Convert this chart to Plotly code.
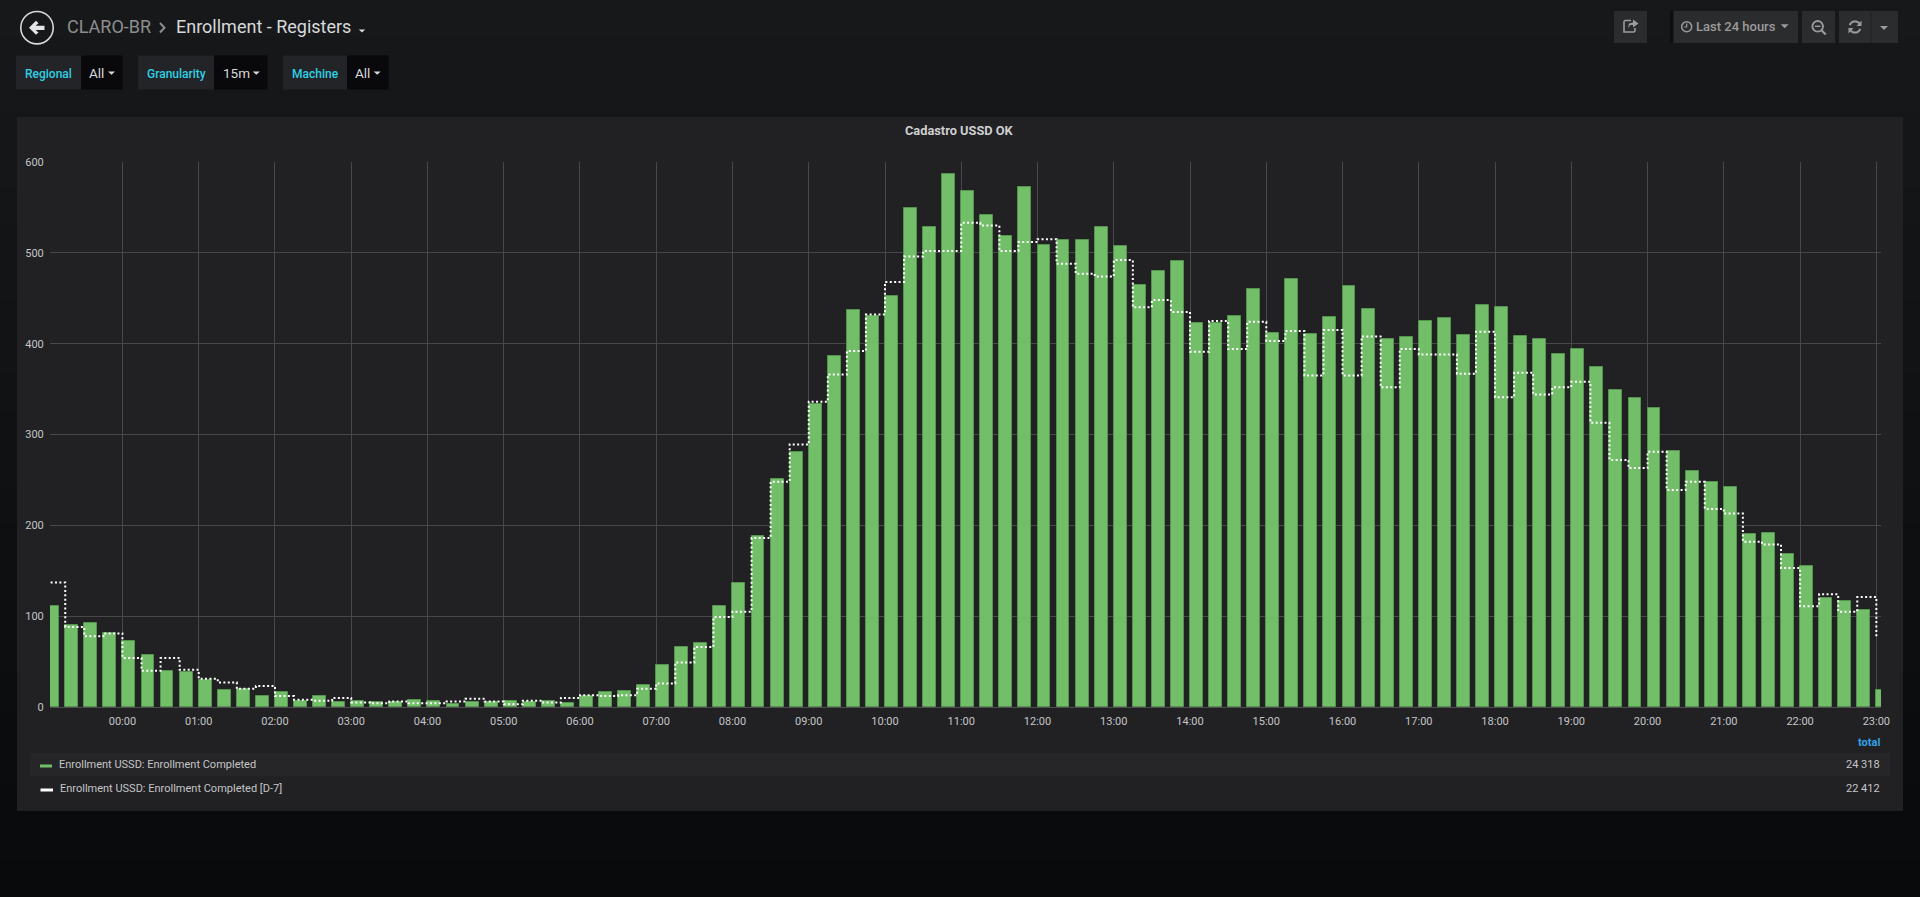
import math
import pandas as pd
import plotly.graph_objects as go

W = 1920
H = 897

# 15 minute buckets, 23:00 of the day before up to 23:00
bars_completed = [
    111, 90, 93, 81,
    73, 57, 40, 39,
    30, 19, 20, 12,
    17, 7, 12, 5,
    7, 5, 6, 8,
    7, 3, 6, 6,
    7, 5, 7, 4,
    12, 16, 18, 24,
    46, 66, 70, 111,
    136, 188, 251, 281,
    334, 386, 437, 431,
    453, 549, 528, 587,
    568, 542, 518, 572,
    509, 514, 514, 528,
    508, 465, 480, 491,
    423, 423, 431, 460,
    412, 471, 411, 429,
    463, 438, 405, 407,
    425, 428, 410, 443,
    440, 408, 405, 389,
    394, 374, 349, 340,
    329, 282, 260, 248,
    242, 191, 192, 168,
    155, 120, 117, 107,
    19,
]
line_d7 = [
    137, 88, 78, 81,
    54, 40, 54, 41,
    31, 27, 20, 23,
    12, 8, 7, 10,
    5, 4, 6, 4,
    4, 6, 9, 6,
    3, 7, 5, 10,
    13, 12, 13, 20,
    26, 49, 66, 99,
    105, 186, 248, 289,
    336, 366, 392, 432,
    468, 496, 502, 502,
    533, 530, 502, 512,
    515, 488, 477, 474,
    492, 440, 448, 435,
    391, 425, 394, 424,
    403, 414, 365, 415,
    365, 408, 352, 394,
    388, 388, 367, 413,
    341, 368, 344, 352,
    358, 313, 272, 263,
    281, 239, 248, 218,
    213, 182, 179, 153,
    111, 124, 105, 121,
    77,
]
times = pd.date_range("2018-12-31 23:00", periods=len(bars_completed), freq="15min")
y_ticks = [0, 100, 200, 300, 400, 500, 600]
series_names = ["Enrollment USSD: Enrollment Completed", "Enrollment USSD: Enrollment Completed [D-7]"]
series_totals = ["24 318", "22 412"]

GREEN = "#73bf69"
TEXT = "#d8d9da"
TICK = "#c4c5c6"
GRAY = "#8e8e8e"
ICON = "#9b9b9b"
CYAN = "#2fd0e4"
BTN = "#2b2c2e"
PANEL = "#212124"
FONT = "Roboto"


def px(x):
    return x / W


def py(y):
    return 1 - y / H


def rect(x0, y0, x1, y1, color):
    return dict(type="rect", xref="paper", yref="paper", layer="below",
                x0=px(x0), x1=px(x1), y0=py(y0), y1=py(y1),
                fillcolor=color, line=dict(width=0))


def poly(points, color=None, stroke=None, width=1.5, closed=True):
    # points are page pixels, shapes want paper coordinates
    path = "M " + " L ".join(f"{px(a):.5f},{py(b):.5f}" for a, b in points)
    if closed:
        path += " Z"
    return dict(type="path", xref="paper", yref="paper", layer="above", path=path,
                fillcolor=color if color else "rgba(0,0,0,0)",
                line=dict(color=stroke if stroke else "rgba(0,0,0,0)", width=width if stroke else 0))


def caret(cx, cy, w, h, color):
    return poly([(cx - w / 2, cy), (cx + w / 2, cy), (cx, cy + h)], color=color)


def circle(cx, cy, r, stroke, width=1.5):
    return dict(type="circle", xref="paper", yref="paper", layer="above",
                x0=px(cx - r), x1=px(cx + r), y0=py(cy + r), y1=py(cy - r),
                line=dict(color=stroke, width=width), fillcolor="rgba(0,0,0,0)")


def arc(cx, cy, r, a0, a1):
    n = 10
    return [(cx + r * math.cos(math.radians(a0 + (a1 - a0) * i / n)),
             cy + r * math.sin(math.radians(a0 + (a1 - a0) * i / n))) for i in range(n + 1)]


def label(x, y, text, size=11, color=TEXT, anchor="left", weight=400):
    return dict(xref="paper", yref="paper", x=px(x), y=py(y), text=text, showarrow=False,
                xanchor=anchor, yanchor="middle", borderpad=0,
                font=dict(family=FONT, size=size, color=color, weight=weight))


shapes = []

# page background gets darker towards the bottom
bands = 24
for i in range(bands):
    t = i / (bands - 1)
    r = round(0x17 + (0x09 - 0x17) * t)
    g = round(0x18 + (0x0a - 0x18) * t)
    b = round(0x1a + (0x0c - 0x1a) * t)
    shapes.append(rect(0, H * i / bands, W, H * (i + 1) / bands + 1, f"rgb({r},{g},{b})"))

shapes.append(rect(17, 117, 1903, 811, PANEL))

# variable boxes
shapes += [
    rect(16, 55.5, 81, 89.5, "#232427"), rect(81, 55.5, 122.5, 89.5, "#09090b"),
    rect(138, 55.5, 214, 89.5, "#232427"), rect(214, 55.5, 267.5, 89.5, "#09090b"),
    rect(283, 55.5, 347, 89.5, "#232427"), rect(347, 55.5, 388.5, 89.5, "#09090b"),
]

# toolbar buttons
shapes += [
    rect(1614, 11, 1647, 43, BTN),
    rect(1670, 11, 1673.5, 43, "#0d0e10"),
    rect(1673.5, 11, 1798, 43, BTN),
    rect(1802, 11, 1835, 43, BTN),
    rect(1839, 11, 1898, 43, BTN),
    rect(1870.5, 11, 1871.5, 43, "#222325"),
]

# legend table row
shapes.append(rect(30, 753, 1890, 776.5, "#262628"))
shapes.append(rect(40, 764.5, 52, 767.5, GREEN))
shapes.append(rect(40.5, 788.5, 53, 791.5, "#ffffff"))

# back button
shapes.append(circle(37, 27.7, 16.2, "#d8d9da", 1.6))
shapes.append(poly([(29, 27.7), (36, 20.8), (38.5, 23.2), (35.6, 25.7), (44.5, 25.7), (44.5, 29.9),
                    (35.6, 29.9), (38.5, 32.4), (36, 34.8)], color="#e4e5e6"))
# breadcrumb chevron and carets
shapes.append(poly([(160, 23), (164.5, 27.7), (160, 32.5)], stroke=GRAY, width=2, closed=False))
shapes.append(caret(362, 29.5, 6.5, 3, TEXT))
shapes.append(caret(111.5, 71.5, 7, 3.3, TEXT))
shapes.append(caret(256.3, 71.5, 7, 3.3, TEXT))
shapes.append(caret(377.2, 71.5, 7, 3.3, TEXT))
shapes.append(caret(1784.7, 24.2, 8, 4, ICON))
shapes.append(caret(1884, 26, 8, 4, ICON))

# share icon
shapes.append(poly([(1631, 20.5), (1625, 20.5), (1624, 21.5), (1624, 32), (1634, 32), (1635, 31), (1635, 28)],
                   stroke=ICON, width=1.6, closed=False))
shapes.append(poly([(1628, 28), (1629, 23.5), (1633, 22.5), (1633, 19.5), (1638.5, 23.5), (1633, 27.5),
                    (1633, 25), (1630.5, 25)], color=ICON))
# clock
shapes.append(circle(1686.7, 26.7, 5, ICON, 1.5))
shapes.append(poly([(1686.7, 23.5), (1686.7, 27), (1684.3, 27)], stroke=ICON, width=1.2, closed=False))
# zoom out
shapes.append(circle(1817.7, 26.3, 5.3, ICON, 1.9))
shapes.append(poly([(1821.5, 30.2), (1825.7, 34.5)], stroke=ICON, width=2.2, closed=False))
shapes.append(poly([(1815, 26.3), (1820.5, 26.3)], stroke=ICON, width=1.5, closed=False))
# refresh
shapes.append(poly(arc(1855, 27, 5.6, 200, 320), stroke=ICON, width=2, closed=False))
shapes.append(poly(arc(1855, 27, 5.6, 20, 140), stroke=ICON, width=2, closed=False))
shapes.append(poly([(1861.5, 20.5), (1861.5, 26), (1856.5, 26)], color=ICON))
shapes.append(poly([(1848.5, 33.5), (1848.5, 28), (1853.5, 28)], color=ICON))

annotations = [
    label(66, 26.5, "CLARO-BR", size=18, color=GRAY),
    label(174.5, 26.5, "Enrollment - Registers", size=18, color=TEXT),
    label(24, 73.5, "Regional", size=12, color=CYAN, weight=500),
    label(88, 73, "All", size=13.5),
    label(146, 73.5, "Granularity", size=12, color=CYAN, weight=500),
    label(221.5, 73, "15m", size=13.5),
    label(290.5, 73.5, "Machine", size=12, color=CYAN, weight=500),
    label(354, 73, "All", size=13.5),
    label(1694.5, 26.5, "Last 24 hours", size=13, color=ICON, weight=500),
    label(959.5, 130.7, "Cadastro USSD OK", size=12.8, color="#cfd0d1", anchor="center", weight=700),
    label(1880.5, 742, "total", size=11, color="#33a2e5", anchor="right", weight=700),
    label(58, 764.3, series_names[0], size=11, color=TICK),
    label(59, 788, series_names[1], size=11, color=TICK),
    label(1880.5, 764.3, series_totals[0], size=11, color=TICK, anchor="right"),
    label(1880.5, 788, series_totals[1], size=11, color=TICK, anchor="right"),
]

fig = go.Figure()
fig.add_trace(go.Bar(
    x=times,
    y=bars_completed,
    name=series_names[0],
    offset=0,
    width=12.9 * 3600000 / 76.25,
    marker=dict(color=GREEN, line=dict(color="#55944f", width=1)),
))
fig.add_trace(go.Scatter(
    x=times,
    y=line_d7,
    name=series_names[1],
    mode="lines",
    line=dict(color="#ffffff", width=2, shape="hv", dash="2px,2.4px"),
))

fig.update_layout(
    width=W,
    height=H,
    margin=dict(l=0, r=0, t=0, b=0),
    paper_bgcolor="#141518",
    plot_bgcolor="rgba(0,0,0,0)",
    showlegend=False,
    bargap=0,
    shapes=shapes,
    annotations=annotations,
    font=dict(family=FONT, size=11, color=TICK),
)
fig.update_xaxes(
    type="date",
    automargin=False,
    domain=[px(50), px(1881)],
    range=[pd.Timestamp("2018-12-31 23:03"), pd.Timestamp("2019-01-01 23:03:40")],
    tick0="2019-01-01 00:00",
    dtick=3600000,
    tickformat="%H:%M",
    showgrid=True,
    gridcolor="#48484b",
    gridwidth=1,
    zeroline=False,
    showline=True,
    linecolor="#4f4f52",
    linewidth=1,
    ticks="outside",
    ticklen=4,
    tickcolor="rgba(0,0,0,0)",
    tickfont=dict(family=FONT, size=11, color=TICK),
)
fig.update_yaxes(
    automargin=False,
    domain=[py(707), py(162)],
    range=[0, 600],
    tickmode="array",
    tickvals=y_ticks,
    showgrid=True,
    gridcolor="#48484b",
    gridwidth=1,
    zeroline=False,
    ticks="outside",
    ticklen=3,
    tickcolor="rgba(0,0,0,0)",
    tickfont=dict(family=FONT, size=11, color=TICK),
)

fig.write_html("out.html", config=dict(displayModeBar=False),
               post_script="document.body.style.margin='0';document.body.style.overflow='hidden';")
